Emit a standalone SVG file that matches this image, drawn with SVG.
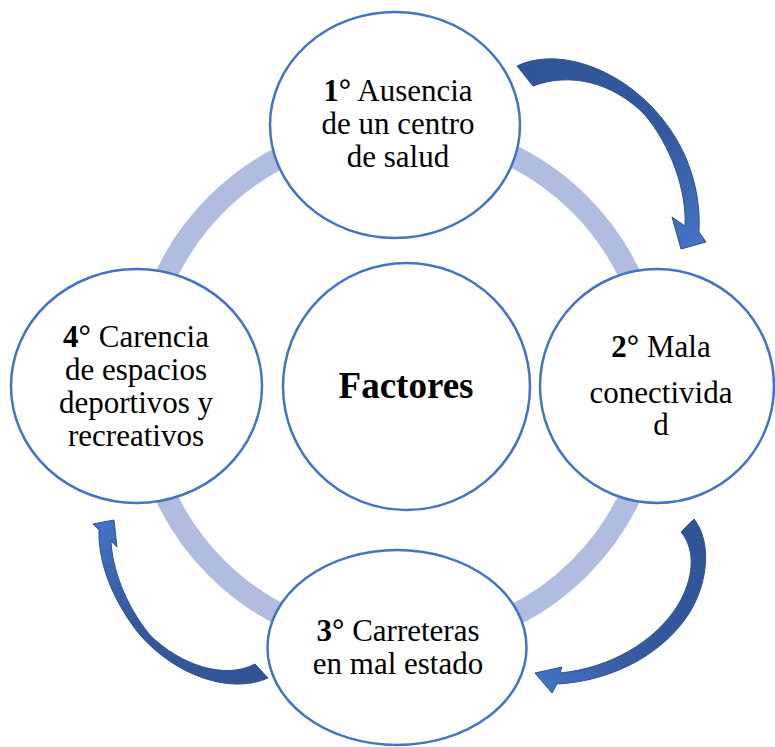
<svg xmlns="http://www.w3.org/2000/svg" width="775" height="747" viewBox="0 0 775 747">
<defs>
<style>
.node{fill:#FFFFFF;stroke:#4472C4;stroke-width:2.5}
.t{font-family:"Liberation Serif","Times New Roman",serif;font-size:31px;fill:#000000;text-anchor:middle}
.b{font-weight:bold}
.big{font-size:37px}
.arr{stroke:#2F528F;stroke-width:1;stroke-linejoin:round}
</style>
<linearGradient id="g1" gradientUnits="userSpaceOnUse" x1="520" y1="70" x2="690" y2="245">
<stop offset="0" stop-color="#2F5597"/><stop offset="0.6" stop-color="#34599E"/><stop offset="1" stop-color="#4472C4"/>
</linearGradient>
<linearGradient id="g2" gradientUnits="userSpaceOnUse" x1="690" y1="525" x2="540" y2="680">
<stop offset="0" stop-color="#2F5597"/><stop offset="0.6" stop-color="#34599E"/><stop offset="1" stop-color="#4472C4"/>
</linearGradient>
<linearGradient id="g3" gradientUnits="userSpaceOnUse" x1="262" y1="672" x2="100" y2="525">
<stop offset="0" stop-color="#2F5597"/><stop offset="0.6" stop-color="#34599E"/><stop offset="1" stop-color="#4472C4"/>
</linearGradient>
</defs>
<rect width="775" height="747" fill="#FFFFFF"/>
<g id="connectors">
<circle cx="398" cy="386" r="257" fill="none" stroke="#B0BDE0" stroke-width="22"/>
</g>
<g id="center">
<ellipse class="node" cx="406.5" cy="386.5" rx="123.5" ry="123.5"/>
<text class="t b big" x="406" y="398">Factores</text>
</g>
<g id="n1">
<ellipse class="node" cx="395" cy="125" rx="125" ry="113"/>
<text class="t" x="398" y="100.5"><tspan class="b">1°</tspan> Ausencia</text>
<text class="t" x="398" y="133.5">de un centro</text>
<text class="t" x="398" y="166.5">de salud</text>
</g>
<g id="n2">
<ellipse class="node" cx="657" cy="386" rx="117" ry="117"/>
<text class="t" x="661" y="356.5"><tspan class="b">2°</tspan> Mala</text>
<text class="t" x="661" y="402.5">conectivida</text>
<text class="t" x="661" y="435">d</text>
</g>
<g id="n3">
<ellipse class="node" cx="397" cy="647.5" rx="129.5" ry="97.5"/>
<text class="t" x="398" y="640.5"><tspan class="b">3°</tspan> Carreteras</text>
<text class="t" x="398" y="674">en mal estado</text>
</g>
<g id="n4">
<ellipse class="node" cx="136.5" cy="386" rx="125.5" ry="117"/>
<text class="t" x="136" y="347"><tspan class="b">4°</tspan> Carencia</text>
<text class="t" x="136" y="380">de espacios</text>
<text class="t" x="136" y="413">deportivos y</text>
<text class="t" x="136" y="446">recreativos</text>
</g>
<g id="arrows">
<path class="arr" fill="url(#g1)" d="M517,66 C567,42 652,80 686,158 C697,185 700,208 699,232 L706,242 L681,249 L672,217 L685,226 C687,192 671,145 644,114 C612,82 570,72 533,86 Z"/>
<path class="arr" fill="url(#g2)" d="M694,519 C712,542 708,582 690,612 C665,652 615,681 557,684 L552,693 L535,673 L562,667 L560,673 C610,668 655,642 678,605 C694,578 696,550 681,532 Z"/>
<path class="arr" fill="url(#g3)" d="M268,678 C230,695 175,675 140,635 C112,600 98,562 99,530 L93,524 L114,520 L117,547 L111,541 C112,567 125,605 150,635 C180,665 225,680 255,664 Z"/>
</g>
</svg>
